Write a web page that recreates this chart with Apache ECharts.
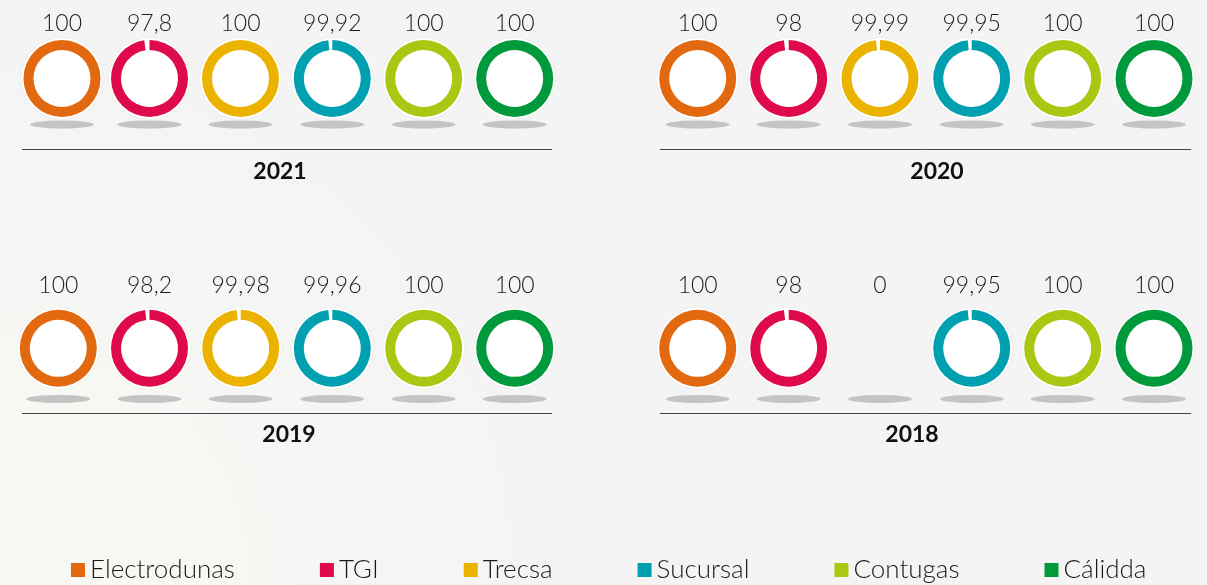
<!DOCTYPE html>
<html>
<head>
<meta charset="utf-8">
<script src="https://cdn.jsdelivr.net/npm/echarts@6/dist/echarts.min.js"></script>
<style>
html, body { margin: 0; padding: 0; background: #f4f4f4; }
#chart { width: 1207px; height: 585px; }
</style>
</head>
<body>
<div id="chart"></div>
<script>
// data
const companies = ["Electrodunas", "TGI", "Trecsa", "Sucursal", "Contugas", "Cálidda"];
const years = ["2021", "2020", "2019", "2018"];
const values2021 = [100, 97.8, 100, 99.92, 100, 100];
const values2020 = [100, 98, 99.99, 99.95, 100, 100];
const values2019 = [100, 98.2, 99.98, 99.96, 100, 100];
const values2018 = [100, 98, 0, 99.95, 100, 100];
const panelValues = [values2021, values2020, values2019, values2018];

const colors = ["#e2690f", "#de0a4c", "#ebb300", "#00a0b0", "#aac813", "#009a3c"];

// layout of the four panels
const panels = [
  { xs: [62, 149.5, 240.5, 332.3, 423.7, 514.7], cy: 78.5, labelY: 24, shadowY: 124.5, lineY: 149.5, lineX: [22, 552], yearX: 280, yearY: 172 },
  { xs: [697.7, 788.7, 880, 971.7, 1062.7, 1154], cy: 78.5, labelY: 24, shadowY: 124.5, lineY: 149.5, lineX: [660, 1191], yearX: 937, yearY: 172 },
  { xs: [58.3, 149.5, 240.7, 332.3, 423.7, 514.7], cy: 348.3, labelY: 285.5, shadowY: 399, lineY: 413.5, lineX: [22, 552], yearX: 289, yearY: 435 },
  { xs: [697.7, 788.7, 880, 971.7, 1062.7, 1154], cy: 348.3, labelY: 285.5, shadowY: 399, lineY: 413.5, lineX: [660, 1191], yearX: 912, yearY: 435 }
];

function fmt(v) {
  return String(v).replace(".", ",");
}

let series = [];
let graphics = [];

panels.forEach(function (p, pi) {
  const vals = panelValues[pi];
  vals.forEach(function (v, i) {
    const cx = p.xs[i];
    // shadow under the ring
    graphics.push({
      type: "circle",
      x: cx, y: p.shadowY,
      scaleY: 0.125,
      shape: { cx: 0, cy: 0, r: 32 },
      style: { fill: "#c4c4c4" },
      silent: true
    });
    // value label
    graphics.push({
      type: "text",
      x: cx, y: p.labelY,
      style: {
        text: fmt(v),
        align: "center",
        verticalAlign: "middle",
        font: "300 23px Lato, 'Noto Sans', sans-serif",
        fill: "#1a1a1a"
      },
      silent: true
    });
    if (v <= 0) return;
    // white halo behind the ring
    series.push({
      type: "pie",
      silent: true,
      animation: false,
      z: 1,
      center: [cx, p.cy],
      radius: [0, 40.5],
      label: { show: false },
      labelLine: { show: false },
      itemStyle: { color: "#fff", shadowBlur: 2, shadowColor: "rgba(0,0,0,0.08)" },
      data: [{ name: "", value: 1 }]
    });
    let data = [{ name: companies[i], value: v, itemStyle: { color: colors[i] } }];
    if (v < 100) {
      data.push({ name: "", value: 100 - v, itemStyle: { color: "rgba(0,0,0,0)" } });
    }
    series.push({
      type: "pie",
      animation: false,
      z: 2,
      center: [cx, p.cy],
      radius: [28.5, 38.5],
      startAngle: 90,
      minAngle: 6,
      emphasis: { disabled: true },
      label: { show: false },
      labelLine: { show: false },
      data: data
    });
  });
  // separator line and year
  graphics.push({
    type: "line",
    shape: { x1: p.lineX[0], y1: p.lineY, x2: p.lineX[1], y2: p.lineY },
    style: { stroke: "#444", lineWidth: 1 },
    silent: true
  });
  graphics.push({
    type: "text",
    x: p.yearX, y: p.yearY,
    style: {
      text: years[pi],
      align: "center",
      verticalAlign: "middle",
      font: "bold 23px Lato, 'Noto Sans', sans-serif",
      fill: "#111"
    },
    silent: true
  });
});

let myChart = echarts.init(document.getElementById("chart"));
myChart.setOption({
  backgroundColor: {
    type: "radial",
    x: 0, y: 1, r: 0.9,
    colorStops: [
      { offset: 0, color: "#f9f9f4" },
      { offset: 1, color: "#f4f4f4" }
    ]
  },
  legend: {
    data: companies,
    left: 66,
    top: 552,
    icon: "rect",
    itemWidth: 14,
    itemHeight: 14,
    itemGap: 85,
    selectedMode: false,
    textStyle: {
      fontFamily: "Lato, 'Noto Sans', sans-serif",
      fontWeight: 300,
      fontSize: 26,
      color: "#1a1a1a"
    }
  },
  graphic: graphics,
  series: series
});
window.onresize = function () {
  myChart.resize();
};
</script>
</body>
</html>
